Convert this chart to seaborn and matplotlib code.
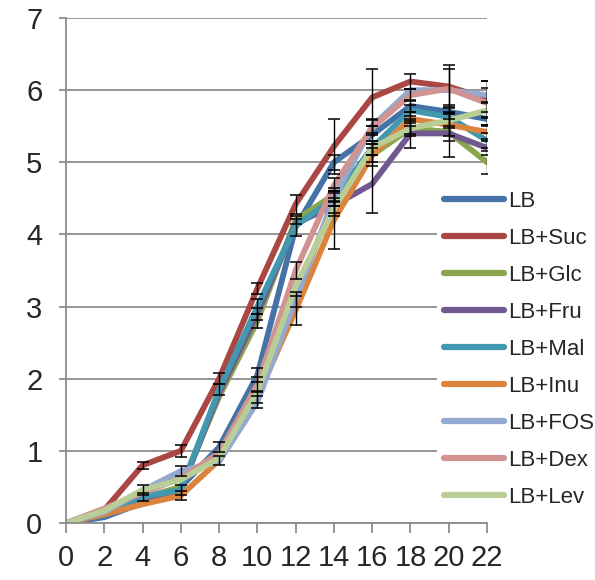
import matplotlib
matplotlib.use("Agg")
import matplotlib.pyplot as plt
import numpy as np
import pandas as pd
import seaborn as sns
from matplotlib import font_manager

# ---- data ----
hours = [0, 2, 4, 6, 8, 10, 12, 14, 16, 18, 20, 22]
series = ["LB", "LB+Suc", "LB+Glc", "LB+Fru", "LB+Mal", "LB+Inu", "LB+FOS", "LB+Dex", "LB+Lev"]
colors = ["#4572A7", "#AA4643", "#89A54E", "#71588F", "#4198AF", "#DB843D", "#93A9CF", "#D19392", "#B9CD96"]

lb  = [0, 0.08, 0.28, 0.50, 1.05, 2.05, 4.10, 5.00, 5.38, 5.78, 5.70, 5.60]
suc = [0, 0.18, 0.80, 1.00, 2.00, 3.25, 4.42, 5.22, 5.90, 6.12, 6.05, 5.88]
glc = [0, 0.12, 0.35, 0.50, 1.75, 2.80, 4.20, 4.55, 5.10, 5.47, 5.42, 5.00]
fru = [0, 0.12, 0.33, 0.45, 1.80, 2.90, 4.15, 4.40, 4.70, 5.40, 5.40, 5.20]
mal = [0, 0.12, 0.36, 0.46, 1.85, 3.00, 4.12, 4.50, 5.20, 5.72, 5.63, 5.30]
inu = [0, 0.12, 0.26, 0.38, 0.87, 1.75, 2.95, 4.20, 5.10, 5.60, 5.52, 5.42]
fos = [0, 0.15, 0.45, 0.72, 0.85, 1.68, 3.10, 4.50, 5.50, 6.00, 6.00, 5.93]
dex = [0, 0.20, 0.42, 0.62, 0.97, 1.92, 3.50, 4.68, 5.48, 5.93, 6.02, 5.82]
lev = [0, 0.17, 0.46, 0.60, 0.90, 1.82, 3.28, 4.36, 5.20, 5.47, 5.58, 5.72]

lb_err  = [0, 0, 0, 0, 0.07, 0.10, 0.12, 0.10, 0.12, 0.08, 0.10, 0.10]
suc_err = [0, 0, 0.05, 0.08, 0.08, 0.08, 0.13, 0.38, 0.40, 0.10, 0.30, 0.25]
glc_err = [0, 0, 0, 0, 0, 0.10, 0.06, 0.10, 0.15, 0.08, 0.35, 0.16]
fru_err = [0, 0, 0, 0, 0, 0.08, 0, 0.10, 0.40, 0.20, 0.10, 0.10]
mal_err = [0, 0, 0.06, 0.07, 0.08, 0.10, 0, 0.10, 0.10, 0.08, 0, 0.10]
inu_err = [0, 0, 0, 0.06, 0.06, 0.08, 0.20, 0.40, 0.10, 0.10, 0.15, 0.10]
fos_err = [0, 0, 0, 0.07, 0, 0.08, 0.10, 0.10, 0.10, 0, 0.30, 0.10]
dex_err = [0, 0, 0, 0, 0, 0.10, 0.12, 0.10, 0.10, 0.08, 0, 0.30]
lev_err = [0, 0, 0.07, 0, 0, 0, 0, 0.10, 0.10, 0.10, 0.10, 0.10]

values = [lb, suc, glc, fru, mal, inu, fos, dex, lev]
errors = [lb_err, suc_err, glc_err, fru_err, mal_err, inu_err, fos_err, dex_err, lev_err]

df = pd.DataFrame({
    "hour": np.tile(hours, len(series)),
    "value": np.concatenate(values),
    "series": np.repeat(series, len(hours)),
})

# ---- plot ----
sns.set_style("white")
names = {f.name for f in font_manager.fontManager.ttflist}
fam = ["Liberation Sans Narrow"] if "Liberation Sans Narrow" in names else []
plt.rcParams["font.family"] = fam + ["Liberation Sans", "DejaVu Sans"]
narrow = bool(fam)

fig = plt.figure(figsize=(5.95, 5.80), dpi=100)
ax = fig.add_axes([66 / 595, 1 - 523 / 580, (487 - 66) / 595, (523 - 18) / 580])

grid_c = "#8C8C8C"
ax.set_ylim(0, 7)
ax.set_xlim(0, 22)
ax.set_yticks(range(0, 8))
ax.set_xticks(hours)
ax.grid(axis="y", color=grid_c, lw=1.3, zorder=0)
ax.set_axisbelow(True)

sns.lineplot(data=df, x="hour", y="value", hue="series", hue_order=series,
             palette=colors, lw=4.2, ax=ax, zorder=2, legend=True)
for line in ax.get_lines():
    line.set_solid_capstyle("round")
    line.set_solid_joinstyle("miter")

for v, e in zip(values, errors):
    h = np.array(hours, dtype=float)
    v = np.array(v)
    e = np.array(e)
    m = e > 0
    ax.errorbar(h[m], v[m], yerr=e[m], fmt="none", ecolor="black", elinewidth=1.0,
                capsize=4, capthick=1.1, zorder=4)

for side in ["top", "right"]:
    ax.spines[side].set_visible(False)
for side in ["left", "bottom"]:
    ax.spines[side].set_color(grid_c)
    ax.spines[side].set_linewidth(1.3)

tick_fs = 25 if narrow else 21
ax.tick_params(axis="x", direction="out", length=7, width=1.3, color=grid_c,
               labelsize=tick_fs, pad=8, bottom=True)
ax.tick_params(axis="y", direction="out", length=5, width=1.3, color=grid_c,
               labelsize=tick_fs, pad=12, left=True)
ax.set_xlabel("")
ax.set_ylabel("")

handles, labels = ax.get_legend_handles_labels()
for hd in handles:
    hd.set_linewidth(4.5)
    hd.set_solid_capstyle("round")
leg_fs = 18 if narrow else 16
leg = ax.legend(handles, labels, loc="upper left",
                bbox_to_anchor=(437 / 595, 1 - 184 / 580), bbox_transform=fig.transFigure,
                frameon=True, facecolor="white", edgecolor="none", framealpha=1,
                fontsize=leg_fs, handlelength=2.7 * 16 / leg_fs, handletextpad=0.2 * 16 / leg_fs,
                labelspacing=0.72 * 16 / leg_fs - (0.12 if narrow else 0),
                borderpad=0.3 * 16 / leg_fs, borderaxespad=0)
leg.set_zorder(5)

fig.savefig("out.png", dpi=100)
